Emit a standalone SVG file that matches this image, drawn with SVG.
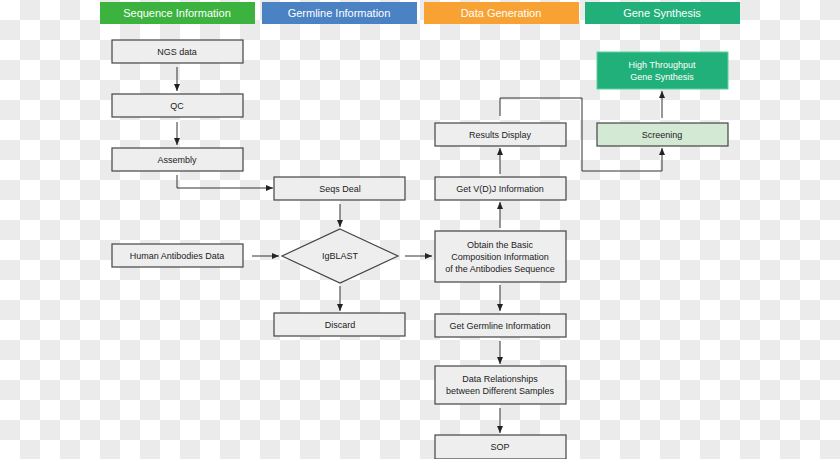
<svg xmlns="http://www.w3.org/2000/svg" width="840" height="459" viewBox="0 0 840 459">
<defs>
<pattern id="chk" width="40" height="40" patternUnits="userSpaceOnUse">
<rect width="40" height="40" fill="#ffffff"/>
<rect x="20" y="0" width="20" height="20" fill="#ebebeb"/>
<rect x="0" y="20" width="20" height="20" fill="#ebebeb"/>
</pattern>
<marker id="ah" markerWidth="8" markerHeight="8" refX="7" refY="4" orient="auto" markerUnits="userSpaceOnUse">
<path d="M0,1 L7,4 L0,7 Z" fill="#222"/>
</marker>
<style>
.hd{font-family:"Liberation Sans",Arial,sans-serif;font-size:11px;fill:#fff;text-anchor:middle}
.bx{fill:#eeeeee;stroke:#444;stroke-width:1.2}
.t{font-family:"Liberation Sans",Arial,sans-serif;font-size:9px;fill:#222;text-anchor:middle}
.c{fill:none;stroke:#333;stroke-width:1;marker-end:url(#ah)}
</style>
</defs>
<rect width="840" height="459" fill="url(#chk)"/>
<g id="headers">
<rect x="100" y="2" width="155" height="22" fill="#3bb33e"/><text class="hd" x="177" y="17">Sequence Information</text>
<rect x="262" y="2" width="155" height="22" fill="#4a82c4"/><text class="hd" x="339" y="17">Germline Information</text>
<rect x="424" y="2" width="155" height="22" fill="#f7a233"/><text class="hd" x="501" y="17">Data Generation</text>
<rect x="585" y="2" width="155" height="22" fill="#22b07a"/><text class="hd" x="662" y="17">Gene Synthesis</text>
</g>
<g id="ngs"><rect class="bx" x="112" y="40" width="131" height="23"/><text class="t" x="177" y="55">NGS data</text></g>
<g id="qc"><rect class="bx" x="112" y="94" width="131" height="23"/><text class="t" x="177" y="109">QC</text></g>
<g id="assembly"><rect class="bx" x="112" y="148" width="131" height="23"/><text class="t" x="177" y="163">Assembly</text></g>
<g id="seqs"><rect class="bx" x="274" y="177" width="131" height="23"/><text class="t" x="340" y="192">Seqs Deal</text></g>
<g id="human"><rect class="bx" x="112" y="244" width="131" height="23"/><text class="t" x="177" y="259">Human Antibodies Data</text></g>
<g id="igblast"><polygon class="bx" points="340,229 398,256 340,283 282,256"/><text class="t" x="340" y="259">IgBLAST</text></g>
<g id="discard"><rect class="bx" x="274" y="313" width="131" height="23"/><text class="t" x="340" y="328">Discard</text></g>
<g id="obtain"><rect class="bx" x="435" y="231" width="131" height="51"/><text class="t" x="500" y="248">Obtain the Basic</text><text class="t" x="500" y="260">Composition Information</text><text class="t" x="500" y="272">of the Antibodies Sequence</text></g>
<g id="germline"><rect class="bx" x="435" y="314" width="131" height="23"/><text class="t" x="500" y="329">Get Germline Information</text></g>
<g id="datarel"><rect class="bx" x="435" y="366" width="131" height="38"/><text class="t" x="500" y="382">Data Relationships</text><text class="t" x="500" y="394">between Different Samples</text></g>
<g id="sop"><rect class="bx" x="435" y="435" width="131" height="24"/><text class="t" x="500" y="450">SOP</text></g>
<g id="vdj"><rect class="bx" x="435" y="177" width="131" height="23"/><text class="t" x="500" y="192">Get V(D)J Information</text></g>
<g id="results"><rect class="bx" x="435" y="123" width="131" height="23"/><text class="t" x="500" y="138">Results Display</text></g>
<g id="screening"><rect x="597" y="123" width="131" height="23" fill="#d3e9d3" stroke="#444" stroke-width="1.2"/><text class="t" x="662" y="138">Screening</text></g>
<g id="hts"><rect x="597" y="52" width="131" height="37" fill="#22b07a" stroke="#5fd0a0" stroke-width="1"/><text class="hd" style="font-size:9px" x="662" y="68">High Throughput</text><text class="hd" style="font-size:9px" x="662" y="80">Gene Synthesis</text></g>
<g id="connectors">
<path class="c" d="M177,67 V91"/>
<path class="c" d="M177,122 V145"/>
<path class="c" d="M177,175 V188 H273"/>
<path class="c" d="M340,204 V227"/>
<path class="c" d="M252,256 H279"/>
<path class="c" d="M405,256 H432"/>
<path class="c" d="M340,286 V311"/>
<path class="c" d="M500,285 V311"/>
<path class="c" d="M500,341 V364"/>
<path class="c" d="M500,408 V433"/>
<path class="c" d="M500,228 V202"/>
<path class="c" d="M500,174 V148"/>
<path class="c" d="M500,116 V98 H582 V171 H662 V148"/>
<path class="c" d="M662,118 V91"/>
</g>
</svg>
